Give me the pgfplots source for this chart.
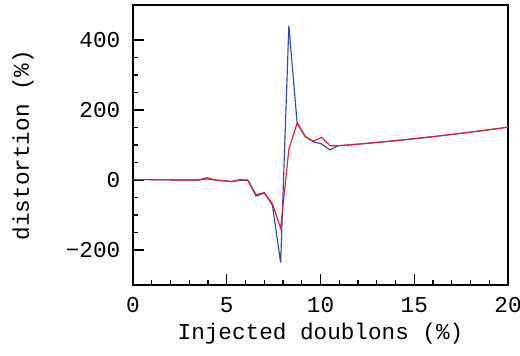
\documentclass[border=0pt]{standalone}
\usepackage{pgfplots}
\pgfplotsset{compat=1.18}
\usepackage{fontspec}
\setmainfont{Liberation Mono}
\definecolor{lblue}{RGB}{45,75,170}
\definecolor{lred}{RGB}{235,25,45}
\begin{document}
\begin{tikzpicture}
\begin{axis}[
  at={(0,0)}, anchor=south west,
  scale only axis,
  width=281.25pt, height=210pt,
  xmin=0, xmax=20, ymin=-300, ymax=500,
  xtick={0,5,10,15,20},
  ytick={-200,0,200,400},
  yticklabels={\char"2212 200,0,200,400},
  minor x tick num=4,
  minor y tick num=3,
  xtick pos=lower, ytick pos=left,
  tick align=inside,
  major tick length=8.5pt,
  minor tick length=3.75pt,
  every tick/.style={black, line width=0.9pt},
  axis line style={line width=2pt},
  /pgf/number format/assume math mode=true,
  tick label style={font=\fontsize{17}{20}\selectfont},
  label style={font=\fontsize{17}{20}\selectfont},
  yticklabel style={xshift=-6pt},
  xticklabel style={yshift=-6pt},
  xlabel={Injected doublons (\%)},
  ylabel={distortion (\%)},
  xlabel style={at={(axis description cs:0.5,0)}, anchor=base, yshift=-40.5pt},
  ylabel style={at={(axis description cs:0,0.5)}, anchor=center, yshift=82.5pt},
]
\addplot[lblue, line width=0.85pt] coordinates {
(0,1) (0.4375,1) (0.875,1) (1.3125,0.5) (1.75,0.5) (2.1875,0) (2.625,0) (3.0625,0) (3.5,0)
(3.9375,3) (4.375,0) (4.8125,-2) (5.25,-5) (5.6875,-1) (6.125,-1)
(6.5625,-46) (7.0,-37) (7.4375,-72) (7.875,-236) (8.3125,441) (8.75,165)
(9.1875,124) (9.625,109) (10.0625,103) (10.5,86) (10.9375,98)
(11.375,99.6) (12.25,103.6) (13.125,107.9) (14.0,112.5) (14.875,117.3)
(15.75,122.4) (16.625,127.8) (17.5,133.4) (18.375,139.3) (19.25,145.5) (20,151)
};
\addplot[lred, line width=0.85pt] coordinates {
(0,1) (0.4375,1) (0.875,1) (1.3125,0.5) (1.75,0.5) (2.1875,0) (2.625,0) (3.0625,0) (3.5,0)
(3.9375,7) (4.375,0) (4.8125,-2) (5.25,-4) (5.6875,1) (6.125,0)
(6.5625,-42) (7.0,-36) (7.4375,-68) (7.875,-138) (8.3125,88) (8.75,162)
(9.1875,124) (9.625,111) (10.0625,122) (10.5,98) (10.9375,98)
(11.375,99.6) (12.25,103.6) (13.125,107.9) (14.0,112.5) (14.875,117.3)
(15.75,122.4) (16.625,127.8) (17.5,133.4) (18.375,139.3) (19.25,145.5) (20,151)
};
\end{axis}
\pgfresetboundingbox
\path (-99.75pt,-52.5pt) rectangle (290.25pt,213.75pt);
\end{tikzpicture}
\end{document}
